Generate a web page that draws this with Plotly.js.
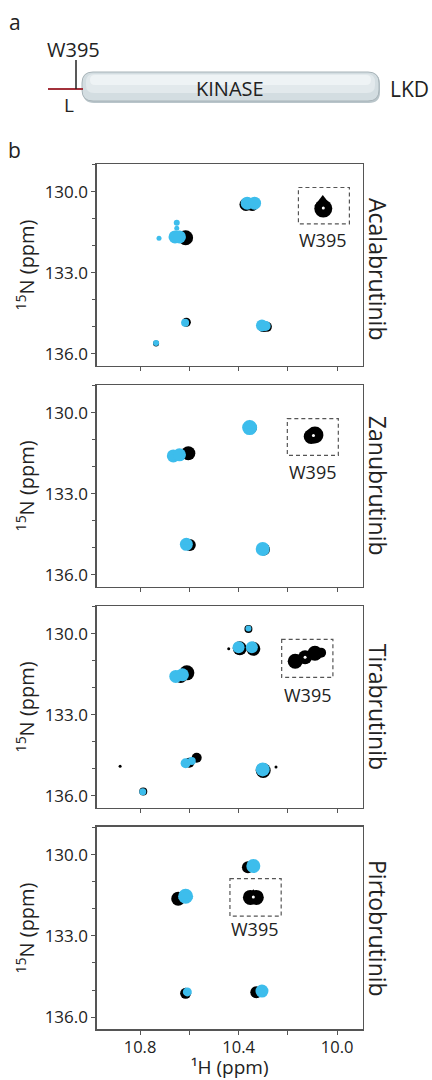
<!DOCTYPE html>
<html><head><meta charset="utf-8">
<script src="https://cdn.plot.ly/plotly-3.0.1.min.js"></script>
<style>html,body{margin:0;padding:0;background:#fff}#chart{width:432px;height:1080px}</style>
</head><body><div id="chart"></div>
<script>
// ================= DATA =================
const drugs = ["Acalabrutinib", "Zanubrutinib", "Tirabrutinib", "Pirtobrutinib"];
const xTickVals = [10.8, 10.4, 10.0];
const xTickText = ["10.8", "10.4", "10.0"];
const yTickVals = [130, 133, 136];
const yTickText = ["130.0", "133.0", "136.0"];
const xRange = [10.976, 9.896];
const yRange = [136.45, 128.97];

// apo kinase peaks (black): 1H ppm / 15N ppm
const apoH1 = [10.056, 10.058, 10.345, 10.370, 10.615, 10.612, 10.735, 10.300, 10.285];
const apoN1 = [130.62, 130.40, 130.47, 130.47, 131.70, 134.83, 135.62, 134.99, 135.00];
const apoH2 = [10.090, 10.105, 10.350, 10.604, 10.598, 10.297];
const apoN2 = [130.82, 130.88, 130.56, 131.50, 134.90, 135.07];
const apoH3 = [10.170, 10.130, 10.090, 10.065, 10.360, 10.395, 10.340, 10.440, 10.610, 10.635, 10.570, 10.600, 10.300, 10.248, 10.881, 10.787];
const apoN3 = [131.02, 130.87, 130.72, 130.70, 129.82, 130.54, 130.56, 130.56, 131.45, 131.58, 134.60, 134.78, 135.07, 134.94, 134.91, 135.85];
const apoH4 = [10.362, 10.352, 10.328, 10.340, 10.645, 10.615, 10.328];
const apoN4 = [130.47, 131.58, 131.58, 131.50, 131.63, 135.12, 135.08];

// inhibitor-bound peaks (cyan)
const boundH1 = [10.365, 10.335, 10.658, 10.640, 10.651, 10.651, 10.723, 10.617, 10.735, 10.305, 10.290];
const boundN1 = [130.42, 130.42, 131.67, 131.67, 131.15, 131.35, 131.72, 134.85, 135.60, 134.95, 134.97];
const boundH2 = [10.355, 10.355, 10.665, 10.640, 10.612, 10.612, 10.302];
const boundN2 = [130.55, 130.48, 131.60, 131.56, 134.88, 134.80, 135.05];
const boundH3 = [10.360, 10.400, 10.346, 10.655, 10.628, 10.615, 10.590, 10.302, 10.789];
const boundN3 = [129.80, 130.50, 130.50, 131.58, 131.52, 134.80, 134.72, 135.03, 135.86];
const boundH4 = [10.340, 10.615, 10.615, 10.608, 10.305];
const boundN4 = [130.42, 131.54, 131.50, 135.07, 135.04];

// W395 peak centre, dashed box and label per panel
const w395H = [10.056, 10.096, 10.130, 10.340];
const w395N = [130.60, 130.84, 130.87, 131.57];
const boxH0 = [10.157, 10.202, 10.225, 10.435];
const boxH1 = [9.950, 9.995, 10.017, 10.227];
const boxN0 = [129.84, 130.22, 130.21, 130.89];
const boxN1 = [131.19, 131.58, 131.62, 132.27];
const labelH = [10.056, 10.096, 10.117, 10.333];
const labelN = [131.78, 132.18, 132.26, 132.74];

// ================= STYLE =================
const apoH = [apoH1, apoH2, apoH3, apoH4], apoN = [apoN1, apoN2, apoN3, apoN4];
const boundH = [boundH1, boundH2, boundH3, boundH4], boundN = [boundN1, boundN2, boundN3, boundN4];
const apoSize = [
  [18, 15, 13, 13, 15, 9, 6, 11, 10],
  [17, 15, 12, 14, 12, 12],
  [15, 14, 15, 10, 8, 14, 14, 3, 15, 13, 10, 10, 15, 3, 3, 8],
  [12, 15, 15, 12, 14, 11, 12]
];
const apoSym = [
  ['circle','triangle-up','circle','circle','circle','circle','circle','circle','circle'],
  Array(6).fill('circle'),
  Array(16).fill('circle'),
  ['circle','circle','circle','triangle-up','circle','circle','circle']
];
const boundSize = [
  [13, 13, 13, 13, 6, 5, 5, 8, 6, 12, 10],
  [15, 12, 13, 13, 13, 8, 14],
  [6, 12, 12, 13, 13, 10, 8, 14, 7],
  [14, 15, 13, 9, 13]
];
const boundSym = [
  Array(11).fill('circle'),
  ['circle','triangle-up','circle','circle','circle','triangle-up','circle'],
  Array(9).fill('circle'),
  ['circle','circle','triangle-up','circle','circle']
];
const CYAN = '#3dbdec';
const FONT = 'Open Sans, Lato, sans-serif';
const W = 432, H = 1080;
const px = v => v / W, py = v => 1 - v / H;
const Lpx = 96.7, Rpx = 362.7;
const panelPx = [[164, 366], [385, 586.7], [606, 807.7], [826.7, 1029.3]];

const traces = [];
const layout = {
  width: W, height: H, margin: {l: 0, r: 0, t: 0, b: 0},
  paper_bgcolor: '#fff', plot_bgcolor: '#fff', showlegend: false,
  font: {family: FONT, color: '#222'},
  shapes: [], annotations: []
};

for (let i = 0; i < 4; i++) {
  const n = i + 1, xa = 'x' + (n === 1 ? '' : n), ya = 'y' + (n === 1 ? '' : n);
  const axBase = {
    showline: true, mirror: true, linecolor: '#555', linewidth: 1.3,
    ticks: 'outside', ticklen: 4, tickwidth: 1, tickcolor: '#555',
    showgrid: false, zeroline: false, fixedrange: true, automargin: false,
    tickfont: {family: FONT, size: 17, color: '#222'}
  };
  const xax = Object.assign({}, axBase, {
    domain: [px(Lpx), px(Rpx)], range: xRange, anchor: ya,
    tickmode: 'array', tickvals: xTickVals, ticktext: xTickText,
    minor: {tickmode: 'linear', tick0: 10.0, dtick: 0.2, ticks: 'outside', ticklen: 4, tickcolor: '#555', tickwidth: 1, showgrid: false},
    showticklabels: i === 3
  });
  if (i === 3) {
    xax.ticklen = 3;
    xax.tickfont = {family: FONT, size: 16.5, color: '#222'};
    xax.title = {text: '\u00B9H (ppm)', standoff: 6, font: {family: FONT, size: 19, color: '#222'}};
  }
  layout['xaxis' + (n === 1 ? '' : n)] = xax;
  layout['yaxis' + (n === 1 ? '' : n)] = Object.assign({}, axBase, {
    domain: [py(panelPx[i][1]), py(panelPx[i][0])], range: yRange, anchor: xa,
    tickmode: 'array', tickvals: yTickVals, ticktext: yTickText,
    minor: {tickmode: 'linear', tick0: 130, dtick: 1, ticks: 'outside', ticklen: 3, tickcolor: '#555', tickwidth: 1, showgrid: false},
    title: {text: '<sup>15</sup>N (ppm)', standoff: 4, font: {family: FONT, size: 20, color: '#222'}}
  });
  traces.push({
    type: 'scatter', mode: 'markers', xaxis: xa, yaxis: ya,
    x: apoH[i], y: apoN[i],
    marker: {color: '#000', size: apoSize[i], symbol: apoSym[i], opacity: 1, line: {width: 0}},
    opacity: 1, hoverinfo: 'skip'
  });
  traces.push({
    type: 'scatter', mode: 'markers', xaxis: xa, yaxis: ya,
    x: boundH[i], y: boundN[i],
    marker: {color: CYAN, size: boundSize[i], symbol: boundSym[i], opacity: 1, line: {width: 0}},
    opacity: 1, hoverinfo: 'skip'
  });
  traces.push({
    type: 'scatter', mode: 'markers', xaxis: xa, yaxis: ya,
    x: [w395H[i]], y: [w395N[i]],
    marker: {color: '#fff', size: 3, symbol: 'circle', opacity: 1},
    hoverinfo: 'skip'
  });
  layout.shapes.push({
    type: 'rect', xref: xa, yref: ya, x0: boxH0[i], x1: boxH1[i], y0: boxN0[i], y1: boxN1[i],
    line: {color: '#555', width: 1.2, dash: '4px,3px'}, fillcolor: 'rgba(0,0,0,0)'
  });
  layout.annotations.push({
    xref: xa, yref: ya, x: labelH[i], y: labelN[i], text: 'W395', showarrow: false,
    font: {family: FONT, size: 18, color: '#222'}
  });
  const cy = (panelPx[i][0] + panelPx[i][1]) / 2;
  layout.annotations.push({
    xref: 'paper', yref: 'paper', x: px(378), y: py(cy + (i === 0 ? 4 : 0)), text: drugs[i],
    textangle: 90, showarrow: false, xanchor: 'center', yanchor: 'middle',
    font: {family: FONT, size: 23, color: '#222'}
  });
}

// ---- panel a: domain schematic ----
function rr(x0, y0, x1, y1, r) {
  const P = (x, y) => px(x) + ',' + py(y);
  return 'M' + P(x0 + r, y0) + ' L' + P(x1 - r, y0) +
    ' Q' + P(x1, y0) + ' ' + P(x1, y0 + r) + ' L' + P(x1, y1 - r) +
    ' Q' + P(x1, y1) + ' ' + P(x1 - r, y1) + ' L' + P(x0 + r, y1) +
    ' Q' + P(x0, y1) + ' ' + P(x0, y1 - r) + ' L' + P(x0, y0 + r) +
    ' Q' + P(x0, y0) + ' ' + P(x0 + r, y0) + ' Z';
}
layout.shapes.push({type: 'path', xref: 'paper', yref: 'paper', path: rr(83, 73, 380, 103, 11),
  fillcolor: '#b9c5ca', line: {width: 0}});
layout.shapes.push({type: 'path', xref: 'paper', yref: 'paper', path: rr(82, 72, 379, 101, 11),
  fillcolor: '#d3dde1', line: {color: '#a8b4b9', width: 1}});
layout.shapes.push({type: 'path', xref: 'paper', yref: 'paper', path: rr(86, 74, 375, 93, 8),
  fillcolor: '#e2e9ec', line: {width: 0}});
layout.shapes.push({type: 'path', xref: 'paper', yref: 'paper', path: rr(90, 75, 371, 85, 5),
  fillcolor: '#eef3f5', line: {width: 0}});
layout.shapes.push({type: 'line', xref: 'paper', yref: 'paper', x0: px(48), x1: px(83), y0: py(89), y1: py(89),
  line: {color: '#a3313b', width: 2}});
layout.shapes.push({type: 'line', xref: 'paper', yref: 'paper', x0: px(76), x1: px(76), y0: py(60), y1: py(89),
  line: {color: '#222', width: 1.5}});

const txt = (t, x, y, s) => ({xref: 'paper', yref: 'paper', x: px(x), y: py(y), text: t, showarrow: false,
  xanchor: 'center', yanchor: 'middle', font: {family: FONT, size: s, color: '#222'}});
layout.annotations.push(txt('a', 15, 22, 21));
layout.annotations.push(txt('b', 14, 150, 21));
layout.annotations.push(txt('W395', 73, 50, 20));
layout.annotations.push(txt('L', 69, 105, 19));
layout.annotations.push(txt('KINASE', 230, 88, 20));
layout.annotations.push(txt('LKD', 409, 89, 21));

Plotly.newPlot('chart', traces, layout, {staticPlot: true, displayModeBar: false});
</script>
</body></html>
